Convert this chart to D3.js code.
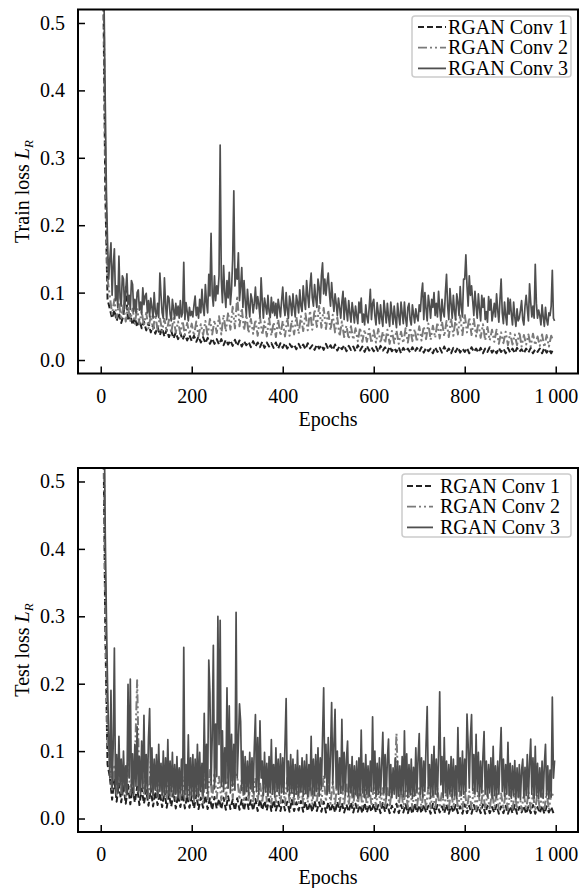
<!DOCTYPE html>
<html>
<head>
<meta charset="utf-8">
<script src="https://cdn.jsdelivr.net/npm/d3@7"></script>
<style>
body { margin: 0; background: #fff; }
svg { font-family: "Liberation Serif", "Times New Roman", serif; }
.tick line { stroke: #000; stroke-width: 1.5; }
</style>
</head>
<body>
<div id="chart"></div>
<script>

// loss values x 1000; Conv 1 / Conv 2 every 5 epochs, Conv 3 every 2.5 epochs
var epochs = d3.range(0, 1000, 5);
var epochsFine = d3.range(0, 1000, 2.5);
var seriesNames = ["RGAN Conv 1", "RGAN Conv 2", "RGAN Conv 3"];
var yTicks = [0.0, 0.1, 0.2, 0.3, 0.4, 0.5];
var xTicks = [0, 200, 400, 600, 800, 1000];
var xTickLabels = ["0", "200", "400", "600", "800", "1\u2009000"];

var trainConv1 = [
  1100, 600, 250, 90, 76, 62, 74, 58, 70, 55, 66, 108, 58, 68, 52, 63, 49, 60, 47, 57,
  44, 55, 41, 52, 39, 49, 37, 47, 35, 45, 34, 43, 32, 41, 31, 40, 30, 38, 29, 37,
  28, 36, 27, 35, 26, 34, 25, 33, 24, 32, 24, 31, 23, 31, 22, 30, 23, 29, 21, 30,
  21, 29, 20, 28, 22, 27, 19, 28, 20, 26, 19, 27, 18, 26, 20, 25, 18, 26, 17, 25,
  18, 25, 17, 24, 19, 23, 16, 24, 17, 23, 16, 25, 17, 22, 15, 23, 17, 22, 15, 24,
  16, 22, 15, 23, 14, 21, 16, 22, 13, 21, 15, 20, 13, 22, 14, 20, 12, 21, 14, 19,
  13, 20, 12, 21, 14, 19, 11, 20, 13, 18, 12, 19, 10, 18, 13, 17, 11, 19, 12, 18,
  12, 19, 11, 18, 13, 17, 10, 19, 12, 18, 11, 20, 12, 17, 10, 18, 12, 19, 11, 17,
  12, 18, 10, 19, 12, 17, 11, 18, 10, 17, 12, 19, 11, 16, 10, 18, 12, 17, 10, 18,
  11, 17, 10, 18, 12, 16, 10, 17, 11, 18, 10, 16, 12, 17, 10, 18, 11, 16, 10, 17
];
var trainConv2 = [
  1100, 650, 300, 120, 95, 68, 90, 62, 86, 60, 82, 57, 80, 58, 76, 54, 77, 53, 72, 51,
  70, 47, 66, 46, 67, 44, 63, 43, 61, 42, 60, 40, 62, 41, 57, 39, 58, 37, 55, 38,
  54, 36, 57, 35, 53, 37, 58, 35, 61, 38, 59, 40, 65, 38, 67, 42, 71, 45, 79, 47,
  95, 50, 77, 44, 67, 40, 61, 39, 60, 36, 64, 37, 57, 35, 62, 36, 56, 34, 60, 36,
  58, 35, 63, 36, 59, 38, 64, 39, 65, 43, 69, 44, 73, 45, 75, 49, 80, 48, 77, 46,
  74, 44, 67, 41, 63, 35, 57, 34, 51, 31, 50, 30, 47, 28, 48, 27, 45, 27, 46, 25,
  44, 26, 46, 25, 42, 25, 45, 24, 43, 25, 44, 24, 42, 25, 47, 26, 48, 28, 46, 27,
  50, 29, 50, 31, 54, 30, 51, 33, 56, 32, 57, 35, 58, 34, 62, 36, 61, 38, 66, 37,
  68, 41, 63, 37, 61, 35, 55, 33, 53, 29, 49, 29, 45, 27, 45, 24, 41, 25, 42, 22,
  40, 23, 38, 22, 42, 20, 37, 23, 38, 20, 39, 22, 35, 21, 38, 19, 37, 20, 36, 28
];
var trainConv3 = [
  1200, 950, 750, 520, 380, 250, 175, 120, 150, 174, 96, 140, 165, 88, 110, 78, 154, 92, 80, 125,
  120, 76, 104, 128, 82, 96, 75, 118, 112, 72, 90, 70, 100, 104, 74, 86, 68, 107, 82, 95,
  99, 70, 88, 64, 92, 78, 62, 100, 72, 65, 84, 63, 129, 96, 70, 62, 122, 82, 60, 95,
  92, 68, 58, 90, 76, 61, 84, 66, 80, 62, 88, 64, 70, 145, 60, 85, 72, 58, 78, 66,
  72, 64, 82, 95, 66, 78, 62, 90, 70, 105, 78, 66, 112, 85, 70, 127, 95, 188, 98, 80,
  125, 88, 110, 98, 125, 319, 120, 85, 140, 100, 78, 118, 92, 130, 82, 105, 150, 251, 110, 135,
  120, 159, 88, 110, 137, 78, 118, 88, 66, 105, 82, 64, 98, 90, 70, 84, 108, 76, 94, 82,
  64, 122, 88, 62, 92, 80, 68, 96, 72, 63, 93, 70, 86, 66, 84, 62, 90, 78, 64, 88,
  108, 80, 66, 100, 74, 62, 95, 84, 66, 98, 78, 64, 96, 86, 70, 104, 80, 72, 110, 88,
  75, 118, 96, 78, 110, 129, 92, 80, 112, 92, 78, 120, 108, 84, 125, 144, 98, 120, 96, 114,
  129, 100, 80, 115, 90, 72, 98, 84, 66, 92, 78, 62, 86, 102, 60, 92, 74, 58, 88, 70,
  56, 85, 72, 55, 80, 66, 54, 86, 70, 92, 56, 68, 52, 82, 64, 55, 78, 105, 60, 84,
  90, 66, 52, 85, 70, 54, 82, 62, 50, 88, 72, 55, 84, 64, 50, 86, 70, 53, 80, 62,
  48, 84, 66, 52, 86, 70, 54, 86, 62, 50, 78, 84, 60, 52, 82, 68, 55, 76, 64, 58,
  82, 72, 98, 114, 60, 100, 76, 58, 96, 82, 62, 90, 78, 100, 66, 84, 64, 102, 76, 58,
  90, 72, 64, 100, 127, 80, 60, 106, 84, 62, 96, 72, 60, 98, 86, 66, 109, 78, 64, 120,
  120, 156, 110, 80, 125, 96, 110, 88, 66, 102, 80, 62, 98, 76, 58, 96, 78, 92, 60, 72,
  56, 94, 74, 90, 58, 70, 84, 64, 98, 74, 56, 90, 120, 70, 54, 86, 66, 52, 92, 68,
  90, 68, 52, 86, 64, 50, 76, 58, 62, 74, 88, 60, 52, 80, 96, 76, 58, 113, 86, 64,
  80, 62, 142, 84, 62, 74, 66, 52, 82, 64, 50, 78, 60, 52, 70, 66, 80, 133, 62, 58
];

var testConv1 = [
  1100, 650, 280, 80, 62, 28, 58, 25, 52, 24, 48, 22, 50, 21, 45, 24, 47, 20, 44, 22,
  42, 19, 45, 18, 40, 20, 38, 17, 41, 16, 36, 18, 39, 15, 35, 17, 37, 15, 34, 16,
  33, 15, 35, 14, 31, 16, 34, 14, 30, 13, 32, 15, 29, 14, 31, 13, 33, 14, 28, 12,
  30, 13, 28, 12, 31, 14, 27, 12, 29, 11, 28, 13, 26, 12, 29, 11, 27, 12, 25, 11,
  27, 12, 25, 10, 28, 11, 24, 12, 26, 10, 25, 11, 23, 10, 26, 11, 24, 10, 25, 9,
  24, 10, 22, 9, 25, 11, 23, 9, 21, 10, 24, 9, 22, 10, 20, 8, 23, 9, 21, 10,
  22, 9, 20, 8, 23, 10, 21, 8, 19, 9, 22, 8, 20, 9, 21, 8, 19, 7, 22, 9,
  20, 8, 21, 9, 19, 7, 22, 8, 20, 9, 18, 8, 21, 7, 19, 9, 20, 8, 18, 7,
  21, 8, 19, 7, 20, 9, 18, 8, 21, 7, 19, 8, 17, 9, 20, 7, 18, 8, 19, 7,
  18, 8, 20, 7, 17, 9, 19, 7, 18, 8, 20, 7, 17, 8, 19, 7, 18, 9, 17, 8
];
var testConv2 = [
  1100, 700, 320, 110, 85, 40, 80, 35, 90, 38, 75, 32, 88, 36, 70, 80, 205, 40, 78, 34,
  72, 30, 85, 33, 68, 29, 75, 31, 66, 28, 70, 30, 64, 27, 72, 29, 62, 26, 68, 28,
  60, 25, 66, 27, 58, 24, 64, 26, 72, 28, 68, 30, 62, 27, 75, 29, 66, 80, 30, 70,
  62, 28, 58, 25, 64, 27, 56, 24, 60, 26, 55, 23, 62, 25, 54, 22, 58, 24, 52, 23,
  56, 22, 60, 24, 54, 21, 58, 23, 52, 22, 62, 24, 55, 21, 57, 23, 60, 22, 64, 25,
  58, 22, 54, 20, 56, 21, 50, 19, 53, 20, 48, 18, 52, 19, 47, 18, 50, 17, 49, 19,
  46, 17, 50, 18, 45, 16, 48, 17, 44, 40, 126, 18, 46, 16, 44, 17, 47, 15, 43, 16,
  45, 15, 42, 16, 46, 15, 41, 14, 44, 16, 40, 15, 43, 14, 42, 16, 45, 15, 40, 14,
  42, 14, 40, 15, 44, 13, 39, 14, 41, 15, 38, 13, 42, 14, 40, 13, 37, 14, 39, 13,
  40, 13, 38, 14, 41, 12, 37, 13, 39, 14, 36, 12, 40, 13, 37, 12, 38, 13, 36, 35
];
var testConv3 = [
  1200, 1000, 800, 600, 420, 300, 200, 120, 60, 190, 45, 110, 253, 40, 95, 38, 122, 50, 88, 36,
  100, 42, 78, 35, 199, 60, 207, 40, 96, 34, 110, 48, 136, 38, 92, 36, 115, 44, 153, 40,
  95, 36, 120, 163, 38, 105, 34, 88, 42, 95, 33, 110, 40, 82, 35, 100, 32, 90, 38, 117,
  34, 85, 40, 98, 33, 80, 36, 92, 31, 75, 38, 88, 34, 254, 36, 80, 32, 124, 35, 90,
  34, 95, 30, 88, 36, 110, 32, 98, 40, 82, 34, 156, 45, 110, 38, 235, 186, 50, 120, 257,
  44, 140, 62, 300, 110, 294, 48, 130, 40, 105, 52, 194, 45, 167, 38, 125, 48, 110, 42, 306,
  60, 110, 170, 144, 42, 100, 36, 92, 40, 85, 35, 98, 44, 90, 38, 105, 154, 40, 120, 36,
  145, 60, 85, 34, 98, 40, 82, 33, 92, 38, 117, 36, 80, 32, 105, 40, 88, 34, 96, 38,
  90, 36, 110, 178, 40, 85, 34, 95, 38, 88, 32, 80, 36, 101, 34, 78, 40, 90, 33, 85,
  37, 95, 32, 80, 42, 122, 36, 88, 34, 95, 40, 105, 33, 90, 44, 120, 194, 60, 110, 36,
  120, 40, 95, 172, 50, 110, 162, 45, 100, 36, 90, 38, 147, 42, 98, 35, 88, 115, 34, 80,
  38, 92, 32, 78, 36, 85, 30, 90, 34, 131, 38, 82, 31, 95, 36, 78, 33, 85, 40, 151,
  42, 100, 32, 82, 36, 90, 34, 80, 128, 38, 95, 30, 88, 118, 34, 80, 31, 75, 36, 90,
  30, 85, 33, 78, 36, 92, 32, 130, 40, 96, 31, 80, 35, 88, 30, 76, 34, 105, 38, 90,
  126, 36, 90, 32, 85, 40, 110, 166, 45, 80, 30, 95, 34, 107, 36, 88, 32, 95, 188, 50,
  92, 31, 120, 38, 85, 30, 80, 36, 92, 32, 88, 34, 78, 30, 135, 40, 90, 34, 100, 36,
  88, 40, 155, 110, 45, 120, 154, 42, 95, 36, 125, 40, 98, 33, 85, 38, 92, 129, 36, 85,
  32, 80, 38, 90, 30, 107, 34, 78, 31, 85, 36, 92, 135, 40, 88, 33, 80, 36, 113, 34,
  82, 30, 78, 34, 86, 29, 75, 32, 80, 28, 72, 88, 31, 76, 34, 95, 30, 82, 118, 36,
  90, 30, 107, 34, 82, 29, 75, 32, 85, 30, 80, 110, 34, 78, 29, 72, 32, 180, 60, 86
];

var colors = ["#222222", "#7a7a7a", "#4f4f4f"];
var dashes = ["6,3", "9,3,2,3,2,3", null];
var serif = "'Liberation Serif', 'Times New Roman', serif";

var width = 585, height = 888;
var plotLeft = 78, plotWidth = 500, plotHeight = 364;

var panels = [
  { top: 9.5, label: "Train loss ", series: [trainConv1, trainConv2, trainConv3],
    legend: { x: 412, y: 16, w: 159, h: 61, handleX: 6, handleW: 28, textX: 36, first: 17.5 } },
  { top: 468, label: "Test loss ", series: [testConv1, testConv2, testConv3],
    legend: { x: 402, y: 474, w: 169, h: 63, handleX: 5, handleW: 26, textX: 38, first: 18.5 } }
];

var svg = d3.select("#chart").append("svg")
  .attr("width", width).attr("height", height);

var xScale = d3.scaleLinear().domain([-49.95, 1048.95]).range([0, plotWidth]);
var yScale = d3.scaleLinear().domain([-0.02, 0.52]).range([plotHeight, 0]);

panels.forEach(function (panel, p) {
  var g = svg.append("g")
    .attr("transform", "translate(" + plotLeft + "," + panel.top + ")");

  g.append("clipPath").attr("id", "clip" + p)
    .append("rect").attr("width", plotWidth).attr("height", plotHeight);

  panel.series.forEach(function (values, s) {
    var xs = values.length === epochsFine.length ? epochsFine : epochs;
    var line = d3.line()
      .x(function (d, i) { return xScale(xs[i]); })
      .y(function (d) { return yScale(d / 1000); });
    g.append("path")
      .datum(values)
      .attr("clip-path", "url(#clip" + p + ")")
      .attr("d", line)
      .attr("fill", "none")
      .attr("stroke", colors[s])
      .attr("stroke-width", xs === epochsFine ? 1.7 : 2)
      .attr("stroke-linejoin", "round")
      .attr("stroke-dasharray", dashes[s]);
  });

  var xAxis = d3.axisBottom(xScale).tickValues(xTicks)
    .tickSize(-7).tickPadding(15)
    .tickFormat(function (d, i) { return xTickLabels[i]; });
  g.append("g").attr("transform", "translate(0," + plotHeight + ")")
    .call(xAxis)
    .call(function (a) { a.select(".domain").remove(); });

  var yAxis = d3.axisLeft(yScale).tickValues(yTicks)
    .tickSize(-7).tickPadding(13).tickFormat(d3.format(".1f"));
  g.append("g").call(yAxis)
    .call(function (a) { a.select(".domain").remove(); });

  g.selectAll(".tick text")
    .style("font-family", serif)
    .style("font-size", "20px")
    .style("fill", "#000");

  g.append("rect")
    .attr("width", plotWidth).attr("height", plotHeight)
    .attr("fill", "none").attr("stroke", "#000").attr("stroke-width", 2);

  g.append("text")
    .attr("x", plotWidth / 2).attr("y", plotHeight + 52)
    .attr("text-anchor", "middle").attr("font-size", 20)
    .text("Epochs");

  var ylab = g.append("text")
    .attr("transform", "rotate(-90)")
    .attr("x", -plotHeight / 2).attr("y", -49)
    .attr("text-anchor", "middle").attr("font-size", 20);
  ylab.append("tspan").text(panel.label);
  ylab.append("tspan").attr("font-style", "italic").text("L");
  ylab.append("tspan").attr("font-style", "italic").attr("font-size", 13)
    .attr("dy", 4).text("R");

  var lg = svg.append("g")
    .attr("transform", "translate(" + panel.legend.x + "," + panel.legend.y + ")");
  lg.append("rect")
    .attr("width", panel.legend.w).attr("height", panel.legend.h)
    .attr("rx", 3).attr("fill", "#fff")
    .attr("stroke", "#cccccc").attr("stroke-width", 1.5);
  seriesNames.forEach(function (name, s) {
    var rowY = panel.legend.first + s * 20.7;
    lg.append("line")
      .attr("x1", panel.legend.handleX).attr("x2", panel.legend.handleX + panel.legend.handleW)
      .attr("y1", rowY - 6.5).attr("y2", rowY - 6.5)
      .attr("stroke", colors[s]).attr("stroke-width", 1.8)
      .attr("stroke-dasharray", dashes[s]);
    lg.append("text")
      .attr("x", panel.legend.textX).attr("y", rowY)
      .attr("font-size", 20).text(name);
  });
});

</script>
</body>
</html>
